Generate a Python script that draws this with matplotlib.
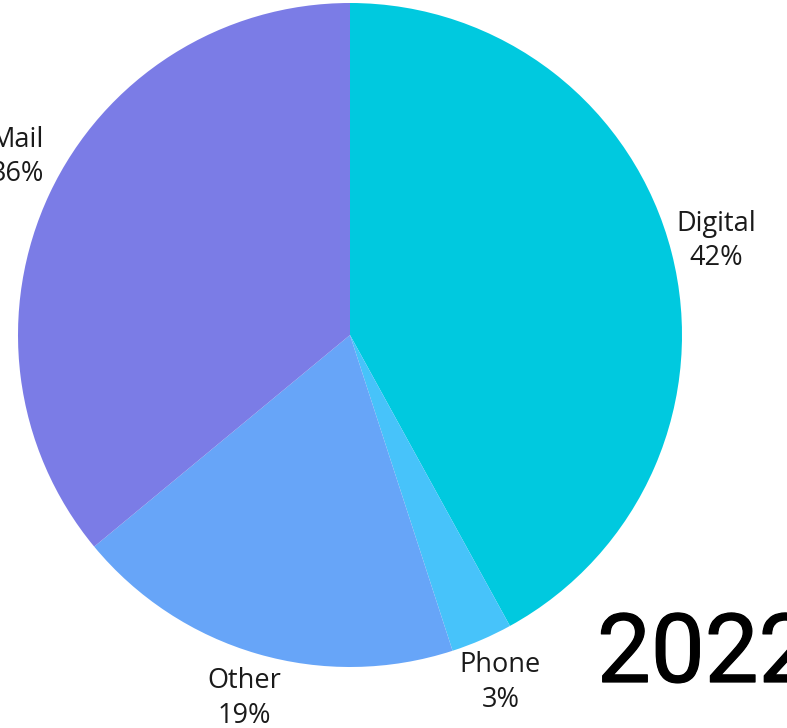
import matplotlib.pyplot as plt
import matplotlib.patheffects as pe

channels = ['Digital', 'Phone', 'Other', 'Mail']
shares = [42, 3, 19, 36]
colors = ['#00C9DF', '#47C3FA', '#67A5F8', '#7B7CE6']
year = '2022'

W, H, DPI = 787, 728, 100
fig = plt.figure(figsize=(W / DPI, H / DPI), dpi=DPI)
fig.patch.set_facecolor('white')

# square axes holding a pie of radius 332 px centred at (350, 335)
r_px = 332
cx, cy = 350, 335
ax = fig.add_axes([(cx - r_px) / W, (H - cy - r_px) / H,
                   2 * r_px / W, 2 * r_px / H])

labels = [f'{c}\n{s}%' for c, s in zip(channels, shares)]
wedges, texts = ax.pie(shares, labels=labels, colors=colors, startangle=90,
                       counterclock=False, labeldistance=1.14,
                       wedgeprops=dict(linewidth=0),
                       textprops=dict(ha='center', va='center', fontsize=19.5,
                                      family='Open Sans', color='#1a1a1a',
                                      linespacing=1.3))
# Mail label sits a little higher on the left edge
mx, my = texts[3].get_position()
texts[3].set_position((mx + 0.03, my + 0.05))

ax.set_xlim(-1, 1)
ax.set_ylim(-1, 1)

# year stamp, thickened a little with a same-colour outline
fig.text(597 / W, (H - 682) / H, year, ha='left', va='baseline',
         fontsize=69, family='Roboto', color='black',
         path_effects=[pe.withStroke(linewidth=0.9, foreground='black')])

fig.savefig('out.png', dpi=DPI)
